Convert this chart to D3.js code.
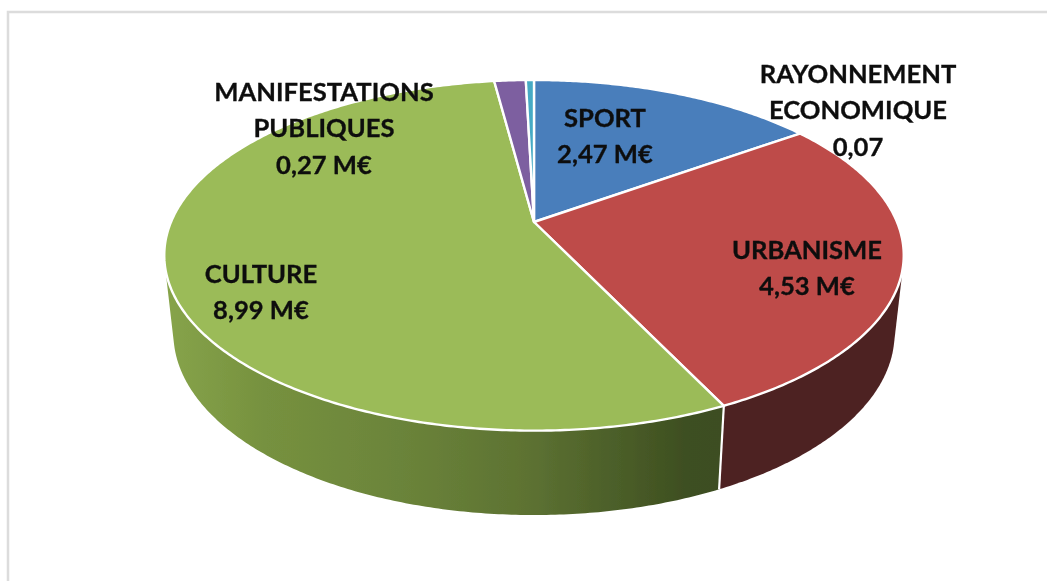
<!DOCTYPE html>
<html><head><meta charset="utf-8">
<script src="https://cdn.jsdelivr.net/npm/d3@7"></script>
<style>html,body{margin:0;background:#fff}svg{display:block}</style></head>
<body><svg id="c" width="1047" height="581"></svg>
<script>
const categories = ["SPORT","URBANISME","CULTURE","MANIFESTATIONS PUBLIQUES","RAYONNEMENT ECONOMIQUE"];
const values = [2.47,4.53,8.99,0.27,0.07];
const colors = ["#4a7ebb","#be4b48","#9bbb59","#7d5fa0","#46aac4"];
const sideColors = [["#2a4a70"],["#4e2021"],["#87a44a","#76913f","#6b843a","#5d7232","#4a5d28","#3e4f20","#3e4e20"],["#4a3860"],["#2a6a7a"]];
const cultureStops = [0,0.18,0.42,0.65,0.82,0.93,1];
const labelLines = [["SPORT","2,47 M€"],["URBANISME","4,53 M€"],["CULTURE","8,99 M€"],["MANIFESTATIONS","PUBLIQUES","0,27 M€"],["RAYONNEMENT","ECONOMIQUE","0,07"]];
const labelAnchors = [[605,127],[807,259],[261,283],[324,101],[858,83]];

const svg = d3.select("#c");
const W = 1047, H = 581;
svg.append("rect").attr("x",8).attr("y",12).attr("width",W+20).attr("height",H+20)
  .attr("fill","#fff").attr("stroke","#dcdcdc").attr("stroke-width",2.5);

const defs = svg.append("defs");
defs.append("filter").attr("id","soft").append("feGaussianBlur").attr("stdDeviation",0.6);
defs.append("filter").attr("id","softText").append("feGaussianBlur").attr("stdDeviation",0.45);

const apex = {x:534,y:222}, k = 0.19;
const top3d = {x0:534,y0:222,R:363,Ry:169};
const bot3d = {x0:534,y0:299,R:354,Ry:175};
const project = (t,p) => {
  const u = Math.sin(t), v = -Math.cos(t), s = 1/(1-k*v);
  return [p.x0+p.R*u*s, p.y0+p.Ry*v*s];
};
const arcPts = (a,b,p) => {
  const n = Math.max(2,Math.ceil(Math.abs(b-a)/0.01));
  return d3.range(n+1).map(i => project(a+(b-a)*i/n,p));
};
const slices = d3.pie().sort(null).startAngle(0).endAngle(2*Math.PI)(values);
const line = d3.line();
const g = svg.append("g").attr("filter","url(#soft)");

// side walls (front half only)
const frontA = Math.PI/2, frontB = 3*Math.PI/2;
slices.forEach((s,i) => {
  const a = Math.max(s.startAngle,frontA), b = Math.min(s.endAngle,frontB);
  if (a>=b) return;
  const pts = arcPts(a,b,top3d).concat(arcPts(a,b,bot3d));
  const hull = d3.polygonHull(pts);
  const xs = d3.extent(pts,d=>d[0]);
  const id = "side"+i;
  const lg = defs.append("linearGradient").attr("id",id).attr("gradientUnits","userSpaceOnUse")
    .attr("x1",xs[0]).attr("x2",xs[1]).attr("y1",0).attr("y2",0);
  const cs = sideColors[i];
  cs.forEach((c,j) => lg.append("stop").attr("offset",cs.length>1? cultureStops[j]:0).attr("stop-color",c));
  g.append("path").attr("d",line(hull)+"Z").attr("fill",`url(#${id})`);
});
// white seam between walls
slices.forEach(s => {
  if (s.endAngle>frontA && s.endAngle<frontB){
    g.append("path").attr("d",line([project(s.endAngle,top3d),project(s.endAngle,bot3d)]))
     .attr("stroke","#fff").attr("stroke-width",2.2).attr("fill","none");
  }
});
// top faces
slices.forEach((s,i) => {
  const pts = [[apex.x,apex.y]].concat(arcPts(s.startAngle,s.endAngle,top3d));
  g.append("path").attr("d",line(pts)+"Z").attr("fill",colors[i])
    .attr("stroke","#fff").attr("stroke-width",2.4).attr("stroke-linejoin","round");
});

// labels
const t = svg.append("g").attr("font-family","Lato, sans-serif").attr("font-weight",700)
  .attr("font-size",25.6).attr("fill","#0c0c0c").attr("text-anchor","middle")
  .attr("stroke","#0c0c0c").attr("stroke-width",0.3).attr("filter","url(#softText)");
labelLines.forEach((ls,i) => {
  const x = labelAnchors[i][0], y = labelAnchors[i][1];
  const el = t.append("text").attr("aria-label",categories[i]);
  ls.forEach((l,j) => el.append("tspan").attr("x",x).attr("y",y+j*36.3).text(l));
});
</script></body></html>
